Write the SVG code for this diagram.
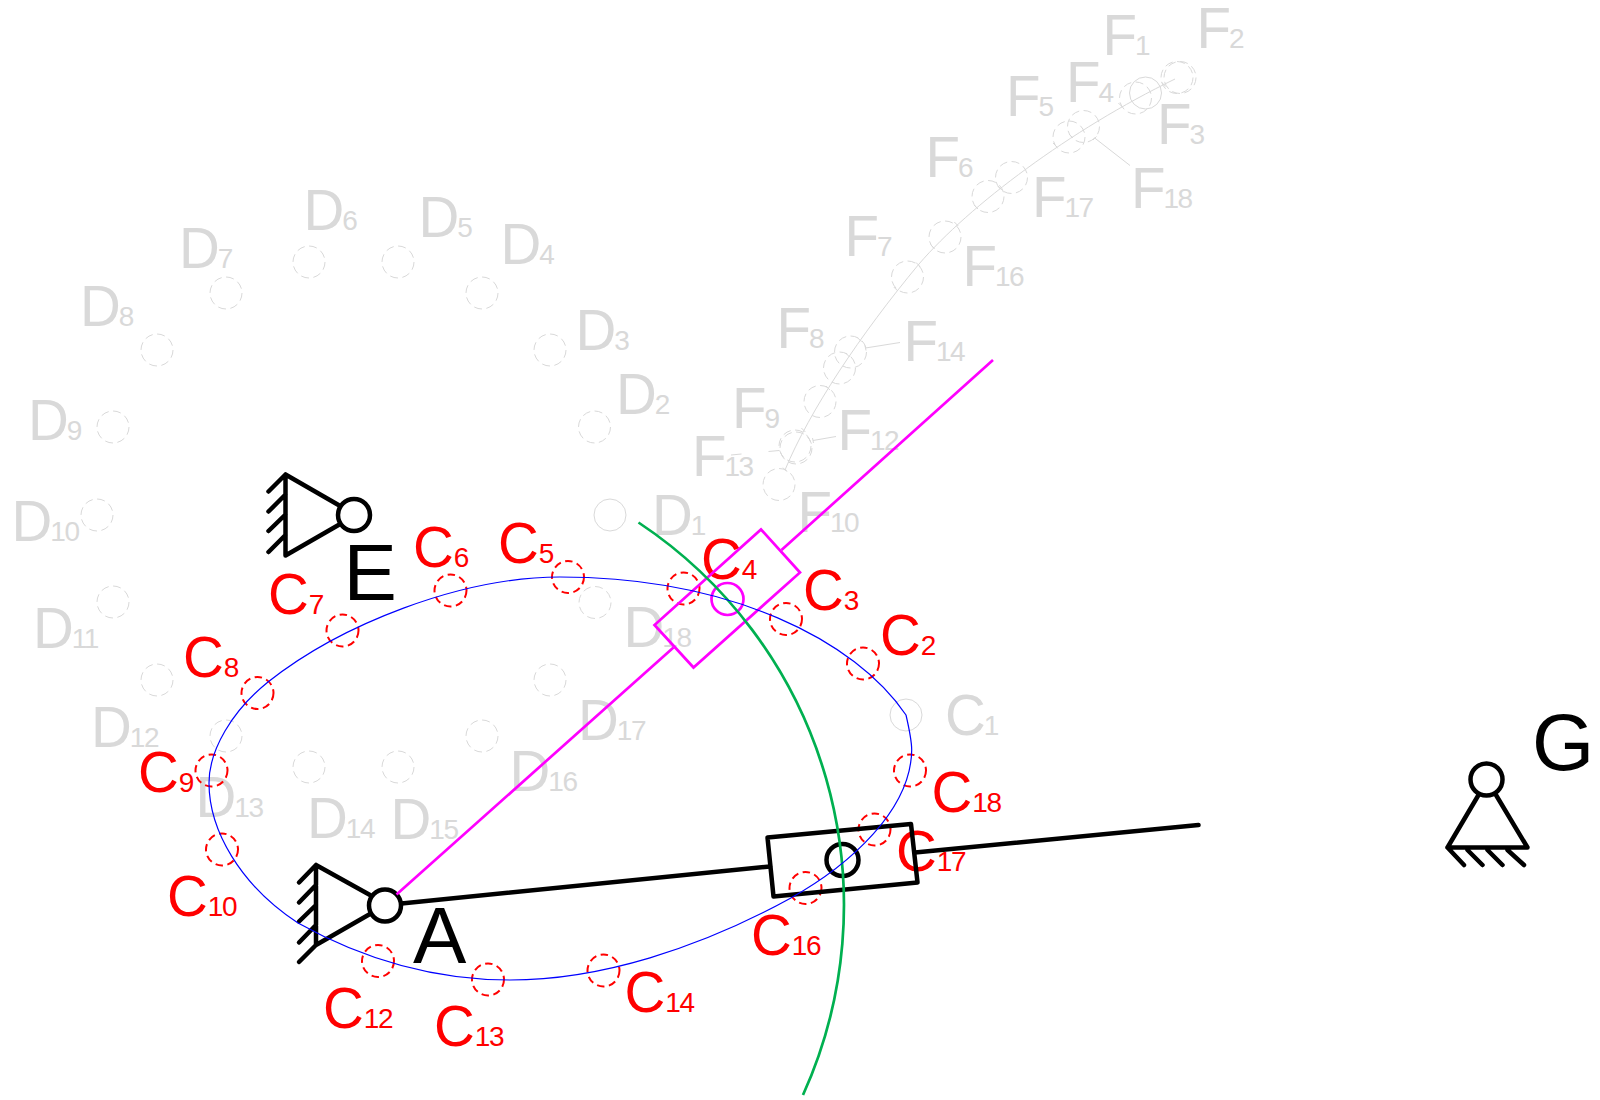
<svg xmlns="http://www.w3.org/2000/svg" width="1600" height="1100" viewBox="0 0 1600 1100">
<style>
text{font-family:"Liberation Sans",Arial,sans-serif;font-size:56.5px}
tspan{font-size:28px;letter-spacing:-1.5px}
.g{fill:#d9d9d9;letter-spacing:-2px}
.r{fill:#ff0000}
.k{fill:#000;font-size:80px}
circle{fill:none}
.gd{stroke:#d9d9d9;stroke-width:1;stroke-dasharray:8 4.5}
.gs{stroke:#d9d9d9;stroke-width:1}
.rd{stroke:#ff0000;stroke-width:2;stroke-dasharray:7.5 4.5}
.gl{stroke:#d9d9d9;stroke-width:1;fill:none}
.bk{stroke:#000;stroke-width:4.5;fill:none;stroke-linecap:round;stroke-linejoin:round}
.mg{stroke:#ff00ff;stroke-width:2.7;fill:none}
</style>
<rect width="1600" height="1100" fill="#fff"/>
<g id="D1"><circle class="gs" cx="610" cy="515" r="16"/><text class="g" x="652" y="535">D<tspan>1</tspan></text></g>
<g id="D2"><circle class="gd" cx="594.5" cy="427" r="16"/><text class="g" x="616" y="414">D<tspan>2</tspan></text></g>
<g id="D3"><circle class="gd" cx="550" cy="350" r="16"/><text class="g" x="575.5" y="350">D<tspan>3</tspan></text></g>
<g id="D4"><circle class="gd" cx="482" cy="293" r="16"/><text class="g" x="500.5" y="264">D<tspan>4</tspan></text></g>
<g id="D5"><circle class="gd" cx="398" cy="262" r="16"/><text class="g" x="418.5" y="237">D<tspan>5</tspan></text></g>
<g id="D6"><circle class="gd" cx="309" cy="262" r="16"/><text class="g" x="303.5" y="230">D<tspan>6</tspan></text></g>
<g id="D7"><circle class="gd" cx="226" cy="293" r="16"/><text class="g" x="179" y="268">D<tspan>7</tspan></text></g>
<g id="D8"><circle class="gd" cx="157" cy="350" r="16"/><text class="g" x="80" y="326">D<tspan>8</tspan></text></g>
<g id="D9"><circle class="gd" cx="113" cy="427" r="16"/><text class="g" x="28" y="440">D<tspan>9</tspan></text></g>
<g id="D10"><circle class="gd" cx="97" cy="515" r="16"/><text class="g" x="11.5" y="541">D<tspan>10</tspan></text></g>
<g id="D11"><circle class="gd" cx="113" cy="602" r="16"/><text class="g" x="33" y="648">D<tspan>11</tspan></text></g>
<g id="D12"><circle class="gd" cx="157" cy="680" r="16"/><text class="g" x="91" y="747">D<tspan>12</tspan></text></g>
<g id="D13"><circle class="gd" cx="226" cy="736" r="16"/><text class="g" x="195.5" y="817">D<tspan>13</tspan></text></g>
<g id="D14"><circle class="gd" cx="309" cy="767" r="16"/><text class="g" x="307" y="838">D<tspan>14</tspan></text></g>
<g id="D15"><circle class="gd" cx="398" cy="767" r="16"/><text class="g" x="390.5" y="839">D<tspan>15</tspan></text></g>
<g id="D16"><circle class="gd" cx="482" cy="736" r="16"/><text class="g" x="509.5" y="791">D<tspan>16</tspan></text></g>
<g id="D17"><circle class="gd" cx="550" cy="680" r="16"/><text class="g" x="578" y="740">D<tspan>17</tspan></text></g>
<g id="D18"><circle class="gd" cx="595" cy="602.5" r="16"/><text class="g" x="623.5" y="647">D<tspan>18</tspan></text></g>

<g id="F1"><circle class="gs" cx="1145.5" cy="93" r="16"/><text class="g" x="1102.5" y="55">F<tspan>1</tspan></text></g>
<g id="F2"><circle class="gd" cx="1177" cy="77.5" r="16"/><text class="g" x="1196.5" y="48">F<tspan>2</tspan></text></g>
<g id="F3"><circle class="gd" cx="1180" cy="77.5" r="16"/><text class="g" x="1157" y="144">F<tspan>3</tspan></text></g>
<g id="F4"><circle class="gd" cx="1135.5" cy="98" r="16"/><text class="g" x="1066" y="102">F<tspan>4</tspan></text></g>
<g id="F5"><circle class="gd" cx="1069" cy="137" r="16"/><text class="g" x="1006" y="116">F<tspan>5</tspan></text></g>
<g id="F6"><circle class="gd" cx="988" cy="196.5" r="16"/><text class="g" x="925.5" y="176.5">F<tspan>6</tspan></text></g>
<g id="F7"><circle class="gd" cx="907.5" cy="277" r="16"/><text class="g" x="844.5" y="256">F<tspan>7</tspan></text></g>
<g id="F8"><circle class="gd" cx="839.5" cy="368" r="16"/><text class="g" x="776.5" y="347.5">F<tspan>8</tspan></text></g>
<g id="F9"><circle class="gd" cx="820" cy="401.5" r="16"/><text class="g" x="732" y="428">F<tspan>9</tspan></text></g>
<g id="F10"><circle class="gd" cx="779" cy="484.5" r="16"/><text class="g" x="797.5" y="532">F<tspan>10</tspan></text></g>
<g id="F12"><circle class="gd" cx="796" cy="448" r="16"/><text class="g" x="837.5" y="450">F<tspan>12</tspan></text></g>
<g id="F13"><circle class="gd" cx="795" cy="446" r="16"/><text class="g" x="692" y="476">F<tspan>13</tspan></text></g>
<g id="F14"><circle class="gd" cx="850.5" cy="352" r="16"/><text class="g" x="903.5" y="361">F<tspan>14</tspan></text></g>
<g id="F16"><circle class="gd" cx="945" cy="237" r="16"/><text class="g" x="962.5" y="285.5">F<tspan>16</tspan></text></g>
<g id="F17"><circle class="gd" cx="1011.5" cy="177.5" r="16"/><text class="g" x="1032" y="217">F<tspan>17</tspan></text></g>
<g id="F18"><circle class="gd" cx="1083.5" cy="126.5" r="16"/><text class="g" x="1131" y="208">F<tspan>18</tspan></text></g>

<g id="C1"><circle class="gs" cx="906" cy="715" r="16"/><text class="g" x="945" y="735">C<tspan>1</tspan></text></g>
<g id="C2"><circle class="rd" cx="863" cy="663.5" r="16"/><text class="r" x="880" y="655">C<tspan>2</tspan></text></g>
<g id="C3"><circle class="rd" cx="786" cy="619" r="16"/><text class="r" x="803" y="610">C<tspan>3</tspan></text></g>
<g id="C4"><circle class="rd" cx="683.5" cy="588.5" r="16"/><text class="r" x="701" y="579">C<tspan>4</tspan></text></g>
<g id="C5"><circle class="rd" cx="568" cy="577" r="16"/><text class="r" x="498" y="563">C<tspan>5</tspan></text></g>
<g id="C6"><circle class="rd" cx="450.5" cy="590.5" r="16"/><text class="r" x="413" y="567">C<tspan>6</tspan></text></g>
<g id="C7"><circle class="rd" cx="342.5" cy="630.5" r="16"/><text class="r" x="268" y="614">C<tspan>7</tspan></text></g>
<g id="C8"><circle class="rd" cx="257.5" cy="693" r="16"/><text class="r" x="183" y="676.5">C<tspan>8</tspan></text></g>
<g id="C9"><circle class="rd" cx="211.5" cy="770.5" r="16"/><text class="r" x="138" y="791.5">C<tspan>9</tspan></text></g>
<g id="C10"><circle class="rd" cx="222" cy="849.5" r="16"/><text class="r" x="167" y="916">C<tspan>10</tspan></text></g>
<g id="C12"><circle class="rd" cx="378" cy="961" r="16"/><text class="r" x="323" y="1027.5">C<tspan>12</tspan></text></g>
<g id="C13"><circle class="rd" cx="488" cy="979.5" r="16"/><text class="r" x="434" y="1046">C<tspan>13</tspan></text></g>
<g id="C14"><circle class="rd" cx="603.5" cy="970.5" r="16"/><text class="r" x="624.5" y="1012">C<tspan>14</tspan></text></g>
<g id="C16"><circle class="rd" cx="805.5" cy="888" r="16"/><text class="r" x="751" y="955">C<tspan>16</tspan></text></g>
<g id="C17"><circle class="rd" cx="874.5" cy="829.5" r="16"/><text class="r" x="896" y="871">C<tspan>17</tspan></text></g>
<g id="C18"><circle class="rd" cx="910" cy="770.5" r="16"/><text class="r" x="931.5" y="812">C<tspan>18</tspan></text></g>

<g id="E"><path class="bk" d="M338.5,505L285.5,474.5V555.5L338.5,525M285.5,474.5L268.5,491.5M285.5,494.5L268.5,511.5M285.5,514.5L268.5,531M285.5,535L268.5,552"/><circle class="bk" cx="354" cy="515" r="16"/><text class="k" x="343.5" y="600">E</text></g>
<g id="A"><path class="bk" d="M370,895L316,865V945L370,914M316,865L299,882.5M316,885L299,902.5M316,905L299,921.5M316,925L299,942.5M316,945L299,962"/><circle class="bk" cx="385" cy="905.5" r="16"/><text class="k" x="413" y="963">A</text></g>
<g id="G"><path class="bk" d="M1478.5,795L1447.5,847.5H1527.5L1496,795M1447.5,847.5L1464,865M1467.5,850L1482.5,865M1487.5,850L1502.5,865M1507.5,850L1524,865"/><circle class="bk" cx="1486.5" cy="779.5" r="16"/><text class="k" x="1532" y="770">G</text></g>
<g id="slider-black"><path class="bk" d="M767.5,837.5L911,824L917.5,882.5L773.5,896.5Z"/><circle class="bk" cx="842.5" cy="860" r="16"/></g>
<g id="slider-magenta"><path class="mg" d="M761,529.5L800,572.5L693.5,667.5L654.5,625Z"/><circle class="mg" cx="727.5" cy="599" r="16"/></g>

<g id="connectors">
<path class="gl" d="M785,470C810,410 860,335 919,264C970,205 1070,130 1175,79"/>
<path class="gl" d="M1161.8,82.5l4,4M1118.4,103l4,4M1069,134l4,4M1053,143l4,4M997.8,186l4,4M974,205l4,4M954.3,222l4,4M930.6,244.6l4,4M916,262.5l4,4M893.8,287l4,4M857.5,337.7l4,4M845.6,353l4,4M825.9,386l4,4M801.4,428l4,4M783,467.7l4,4"/>
<path class="gl" d="M1094.7,138L1130,165.5M1093,140l3.5,-3.5M865.5,348L900,342.5M865,345.5l1,5M813,440.5L836,436.5M812.5,438l1,5M768.5,451.5L779,450.5M731,455L741.5,454"/>
<path class="bk" d="M401.5,903.5L770,866.5M915,852.5L1198.5,825"/>
<path class="mg" d="M396.5,894.5L673.5,647.5M781.5,550L993,360"/>
<path d="M638.5,522.5A459.5,459.5 0 0 1 803,1095" fill="none" stroke="#00b050" stroke-width="2.7"/>
<path d="M906,715C909,728 911.7,740 911.7,750C911,810 850,865 790,898.5C700,948 600,980 510,980C420,980 350,952 298,923C240,885 209,830 209,783C209,750 232,711 268,682C340,625 460,577 560,577C730,577 855,640 906,715" fill="none" stroke="#0000ff" stroke-width="1.2"/>
</g>
</svg>
